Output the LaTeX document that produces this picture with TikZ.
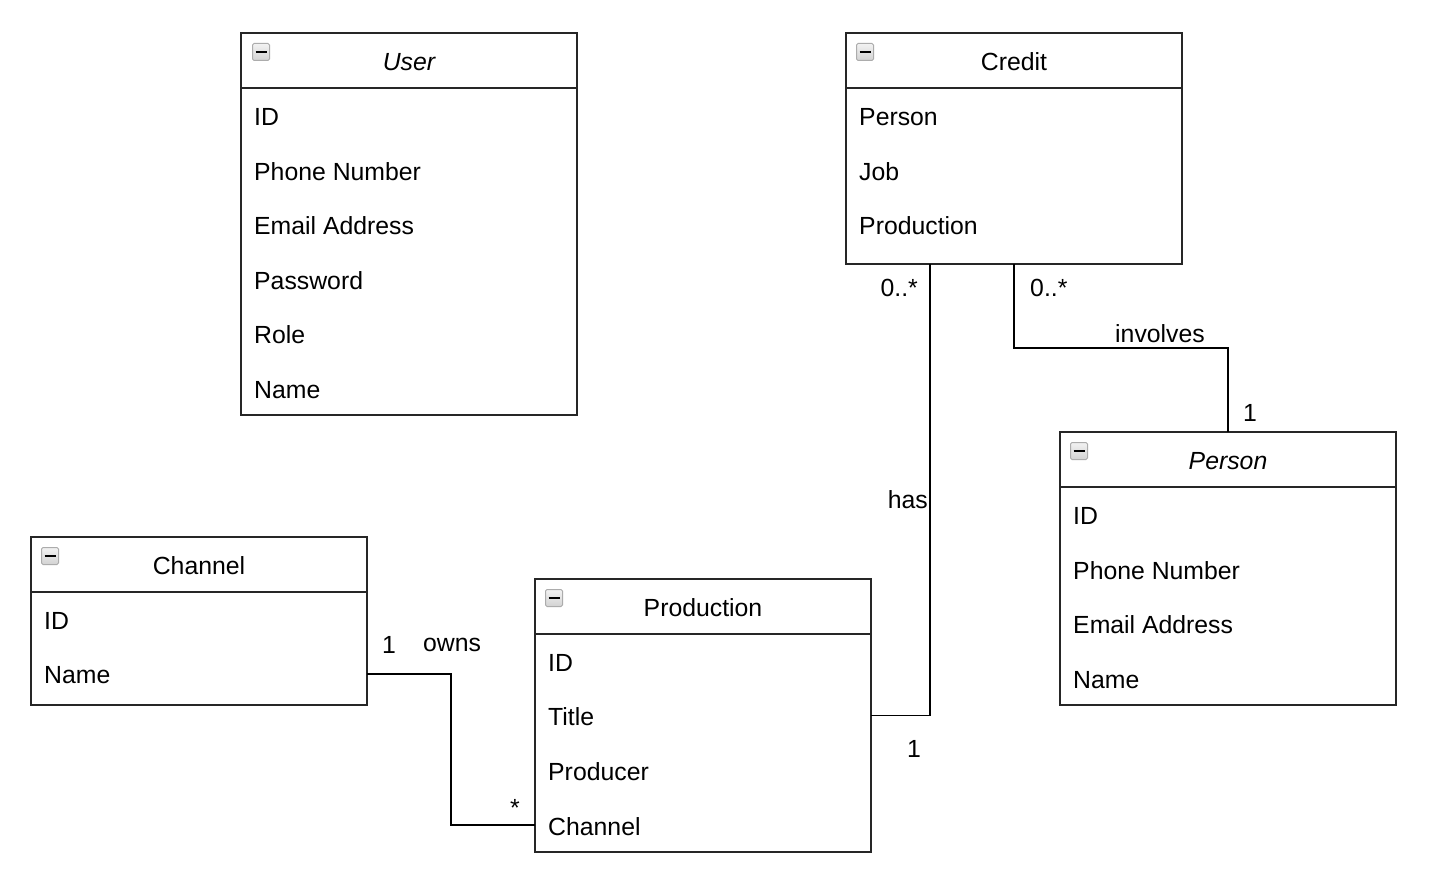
\documentclass[tikz,border=0pt]{standalone}
\usepackage{fontspec}
\setmainfont{Liberation Sans}
\begin{document}
\begin{tikzpicture}[x=1pt,y=-1pt,
  cls/.style={draw=black!85, line width=1.8pt, anchor=north west, minimum width=336pt, inner sep=0pt, outer sep=0pt, fill=white},
  hdr/.style={draw=black!85, line width=1.8pt},
  ttl/.style={font=\fontsize{24.8}{28}\selectfont, inner sep=0pt},
  attr/.style={font=\fontsize{24.8}{28}\selectfont, anchor=west, inner sep=0pt},
  lbl/.style={font=\fontsize{24.8}{28}\selectfont, inner sep=0pt},
  conn/.style={draw=black, line width=1.8pt},
  icon/.style={draw=gray!65, top color=gray!10, bottom color=gray!35, rounded corners=1.5pt, line width=1pt, minimum size=17pt, inner sep=0pt}
]
\useasboundingbox (0,0) rectangle (1435,885);
\newcommand\clsicon[2]{\node[icon] (#1) at (#2) {}; \draw[line width=2.2pt] ([xshift=-5.5pt]#1.center) -- ([xshift=5.5pt]#1.center);}

% User
\node[cls, minimum height=382pt] (user) at (241,33) {};
\draw[hdr] (241,88) -- (577,88);
\clsicon{usericon}{261,52}
\node[ttl] (usert) at (409,62) {\itshape User};
\node[attr] (u1) at (254,117) {ID};
\node[attr] (u2) at (254,172) {Phone Number};
\node[attr] (u3) at (254,226) {Email Address};
\node[attr] (u4) at (254,281) {Password};
\node[attr] (u5) at (254,335) {Role};
\node[attr] (u6) at (254,390) {Name};

% Credit
\node[cls, minimum height=231pt] (credit) at (846,33) {};
\draw[hdr] (846,88) -- (1182,88);
\clsicon{crediticon}{865,52}
\node[ttl] (creditt) at (1014,62) {Credit};
\node[attr] (c1) at (859,117) {Person};
\node[attr] (c2) at (859,172) {Job};
\node[attr] (c3) at (859,226) {Production};

% Person
\node[cls, minimum height=273pt] (person) at (1060,432) {};
\draw[hdr] (1060,487) -- (1396,487);
\clsicon{personicon}{1079,451}
\node[ttl] (persont) at (1228,461) {\itshape Person};
\node[attr] (p1) at (1073,516) {ID};
\node[attr] (p2) at (1073,571) {Phone Number};
\node[attr] (p3) at (1073,625) {Email Address};
\node[attr] (p4) at (1073,680) {Name};

% Channel
\node[cls, minimum height=168pt] (channel) at (31,537) {};
\draw[hdr] (31,592) -- (367,592);
\clsicon{channelicon}{50,556}
\node[ttl] (channelt) at (199,566) {Channel};
\node[attr] (ch1) at (44,621) {ID};
\node[attr] (ch2) at (44,675) {Name};

% Production
\node[cls, minimum height=273pt] (production) at (535,579) {};
\draw[hdr] (535,634) -- (871,634);
\clsicon{prodicon}{554,598}
\node[ttl] (prodt) at (703,608) {Production};
\node[attr] (pr1) at (548,663) {ID};
\node[attr] (pr2) at (548,717) {Title};
\node[attr] (pr3) at (548,772) {Producer};
\node[attr] (pr4) at (548,827) {Channel};

% Connectors
\coordinate (chout) at (channel.east |- 0,674);
\coordinate (prin) at (production.west |- 0,825);
\draw[conn] (chout) -- (451,674) |- (prin);
\coordinate (crhas) at (930,264);
\draw[conn] (crhas) |- (production.east);
\coordinate (bend) at (credit.south |- 0,348);
\draw[conn] (credit.south) -- (bend) -| (person.north);

% Labels
\node[lbl] (l1) at (389,645) {1};
\node[lbl] (l2) at (452,645) {owns};
\node[lbl] (l3) at (515,808) {*};
\node[lbl, anchor=east] (l4) at (918,288) {0..*};
\node[lbl, anchor=east] (l5) at (928,500) {has};
\node[lbl] (l6) at (914,749) {1};
\node[lbl, anchor=west] (l7) at (1030,288) {0..*};
\node[lbl] (l8) at (1160,334) {involves};
\node[lbl] (l9) at (1250,413) {1};
\end{tikzpicture}
\end{document}
